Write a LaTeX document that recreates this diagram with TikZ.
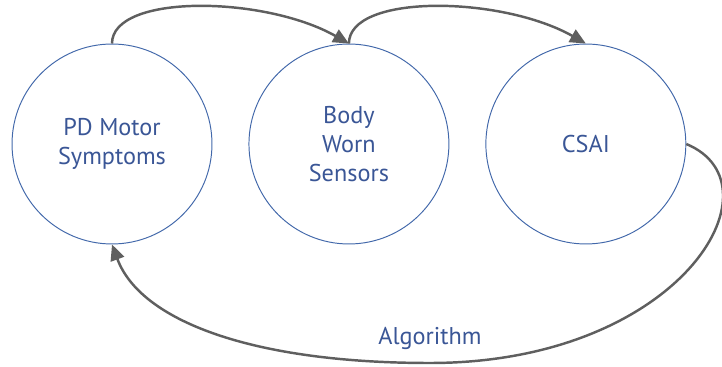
\documentclass[tikz,border=0pt]{standalone}
\usepackage{fontspec}
\setmainfont{PT Sans}
\definecolor{myBlue}{RGB}{66,104,170}
\definecolor{myText}{RGB}{58,86,150}
\definecolor{myGray}{RGB}{95,95,95}
\usetikzlibrary{arrows.meta,positioning}

\begin{document}
\begin{tikzpicture}[
      x=0.02cm, y=-0.02cm,
      mycircle/.style={
         circle,
         draw=myBlue,
         line width=0.55pt,
         text=myText,
         align=center,
         inner sep=0pt,
         minimum size=4cm,
         font=\fontsize{13.8}{16.6}\selectfont},
      myarrow/.style={-{Triangle[length=9pt,width=8pt]}, myGray, line width=1.4pt},
      node distance=0.72cm
      ]
      \useasboundingbox (0,0) rectangle (722,367);
      \node[mycircle] (c1) at (112,144) {PD Motor\\Symptoms};
      \node[mycircle,right=of c1] (c2) {Body\\Worn\\Sensors};
      \node[mycircle,right=of c2] (c3) {CSAI};
      \node[text=myText,font=\fontsize{13.8}{16.6}\selectfont] (alg) at (430,338) {Algorithm};

    \foreach \i/\j in {c1/c2, c2/c3}
    \draw [myarrow] (\i.north) .. controls +(0,-50) and +(-85,-48) .. (\j.north);

    \draw [myarrow] (c3.east) .. controls (785,185) and (680,363) .. (430,363)
      .. controls (250,363) and (140,320) .. (c1.south);
    \end{tikzpicture}
\end{document}
